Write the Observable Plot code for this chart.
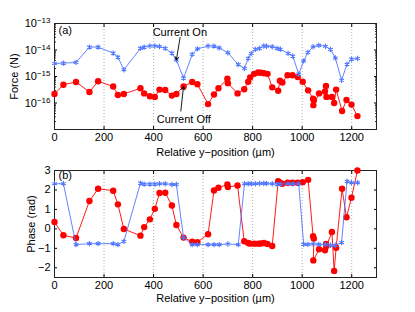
<!DOCTYPE html>
<html><head><meta charset="utf-8">
<script src="https://cdn.jsdelivr.net/npm/d3@7"></script>
<script src="https://cdn.jsdelivr.net/npm/@observablehq/plot@0.6"></script>
<style>
body{margin:0;background:#fff;}
#chart svg{display:block;}
</style></head><body><div id="chart"></div>
<script>
// ---- data: Current On (blue asterisks) ----
const posOn = [0,36,87,141,176,237,256,280,347,362,385,405,424,447,474,492,521,556,577,620,644,665,700,742,767,782,794,811,828,845,856,879,899,912,943,962,986,1006,1023,1044,1067,1094,1114,1134,1159,1181,1199,1224];
const forceOn = [3.1e-15,3.2e-15,3.4e-15,1.29e-14,1.29e-14,7.6e-15,5.4e-15,1.8e-15,1.15e-14,1.29e-14,1.41e-14,1.41e-14,1.35e-14,1.15e-14,7.6e-15,4.2e-15,8.7e-16,6.8e-15,1.1e-14,1.41e-14,1.4e-14,1.2e-14,7.9e-15,2.8e-15,2.0e-15,4.8e-15,7.4e-15,1.05e-14,1.15e-14,1.41e-14,1.38e-14,1.32e-14,1.15e-14,1.07e-14,7.4e-15,5.9e-15,1.23e-15,3.9e-15,8.1e-15,1.32e-14,1.5e-14,1.38e-14,1.05e-14,5.0e-15,7.2e-16,2.9e-15,4.5e-15,4.8e-15];
const phaseOn = [2.32,2.32,-0.81,-0.76,-0.76,-0.76,-0.81,-0.64,2.35,2.30,2.30,2.30,2.32,2.32,2.28,2.28,-0.45,-0.81,-0.81,-0.81,-0.81,-0.81,-0.78,-0.81,2.32,2.32,2.32,2.32,2.33,2.34,2.33,2.32,2.30,2.30,2.32,2.32,2.32,-0.80,-0.80,-0.78,-0.80,-0.80,-0.84,-0.84,-0.71,2.45,2.37,2.37];

// ---- data: Current Off (red circles) ----
const posOff = [0,36,87,141,176,237,256,280,347,362,385,405,424,447,474,492,521,556,577,620,644,662,698,700,739,766,782,790,806,822,833,846,860,879,903,910,920,941,961,982,1002,1024,1044,1047,1045,1068,1092,1096,1098,1120,1129,1137,1161,1179,1199,1223];
const forceOff = [2.2e-16,4.9e-16,6.2e-16,2.6e-16,6.6e-16,4.2e-16,2.0e-16,2.2e-16,3.6e-16,2.3e-16,1.8e-16,1.7e-16,3.2e-16,3.1e-16,1.9e-16,2.2e-16,4.2e-16,6.2e-16,5.1e-16,9.1e-17,2.1e-16,3.6e-16,8.3e-16,5.6e-16,2.3e-16,3.3e-16,6.3e-16,9.3e-16,1.26e-15,1.41e-15,1.38e-15,1.32e-15,1.26e-15,3.9e-16,2.9e-16,6.9e-16,5.9e-16,1.12e-15,1.12e-15,9.5e-16,6.3e-16,3.0e-16,1.45e-16,1.26e-16,8.3e-17,2.3e-16,2.7e-16,4.4e-16,1.7e-16,1.7e-16,1.0e-16,3.2e-16,5.0e-17,1.3e-16,8.7e-17,3.2e-17];
const phaseOff = [0.35,-0.33,-0.47,1.43,2.06,1.96,1.26,-0.01,-0.35,0.09,0.49,1.03,1.84,1.86,1.20,0.20,-0.45,-0.66,-0.68,-0.28,1.97,2.11,2.28,2.15,2.23,-0.64,-0.73,-0.76,-0.76,-0.76,-0.75,-0.73,-0.78,-0.88,2.45,2.37,2.32,2.37,2.37,2.37,2.40,2.52,-0.38,-0.50,-1.62,-1.05,-1.10,-0.78,-0.88,-0.16,-2.16,-0.97,2.06,0.60,1.60,3.00];

// ---- ticks & labels ----
const xTicks = [0,200,400,600,800,1000,1200];
const forceTicks = [1e-16,1e-15,1e-14,1e-13];
const forceTickLabels = ["10^\u221216","10^\u221215","10^\u221214","10^\u221213"];
const forceDecades = [1e-17,1e-16,1e-15,1e-14];
const minorFactors = [2,3,4,5,6,7,8,9];
const phaseTicks = [-2,-1,0,1,2,3];
const phaseTickLabels = ["\u22122","\u22121","0","1","2","3"];
const xLabel = "Relative y\u2212position (\u00b5m)";

// ---- annotations ----
const noteLabels = ["Current On","Current Off"];
const noteX = [506, 522];
const noteY = [4.6e-14, 2.45e-17];
const arrowFromX = [507, 510];
const arrowFromY = [2.95e-14, 5.0e-17];

const blue = "#4f76ff", red = "#ff0000";
const font = "'Liberation Sans', Arial, Helvetica, sans-serif";

const onData = posOn.map((x,i)=>({x, f: forceOn[i], p: phaseOn[i]}));
const offData = posOff.map((x,i)=>({x, f: forceOff[i], p: phaseOff[i]}));
const minorTicks = forceDecades.flatMap(d => minorFactors.map(m => m*d));
const notes = noteLabels.map((t,i)=>({t, x: noteX[i], y: noteY[i]}));
const arrows = [
  {x1: arrowFromX[0], y1: arrowFromY[0], x2: posOn[15], y2: forceOn[15], inset: 3},
  {x1: arrowFromX[1], y1: arrowFromY[1], x2: posOff[16], y2: forceOff[16], inset: 5}
];

const common = {
  width: 415,
  marginLeft: 54, marginRight: 39,
  style: {fontFamily: font, fontSize: "11px", color: "#000", background: "#fff", overflow: "visible"},
  x: {domain: [0,1300]}
};
const blank = () => "";

function xAxes() {
  return [
    Plot.ruleX(xTicks.slice(1), {stroke: "#999", strokeDasharray: "1,2", strokeWidth: 0.8}),
    Plot.axisX({ticks: xTicks, tickSize: -3, tickPadding: 7, label: null, tickFormat: d => String(d)}),
    Plot.axisX({anchor: "top", ticks: xTicks, tickSize: -3, label: null, tickFormat: blank}),
  ];
}

const topPlot = Plot.plot({
  ...common,
  height: 156, marginTop: 23, marginBottom: 27,
  y: {type: "log", domain: [1e-17, 1e-13]},
  marks: [
    ...xAxes(),
    Plot.axisY({ticks: forceTicks, tickSize: -3, tickPadding: 7, label: null, tickFormat: d => forceTickLabels[forceTicks.indexOf(d)]}),
    Plot.axisY({ticks: minorTicks, tickSize: -1.8, label: null, tickFormat: blank}),
    Plot.axisY({anchor: "right", ticks: forceTicks, tickSize: -3, label: null, tickFormat: blank}),
    Plot.axisY({anchor: "right", ticks: minorTicks, tickSize: -1.8, label: null, tickFormat: blank}),
    Plot.frame({stroke: "#222", strokeWidth: 1}),
    Plot.line(offData, {x: "x", y: "f", stroke: red, strokeWidth: 0.9}),
    Plot.dot(offData, {x: "x", y: "f", r: 3.2, fill: red, stroke: "none"}),
    Plot.line(onData, {x: "x", y: "f", stroke: blue, strokeWidth: 0.9}),
    Plot.dot(onData, {x: "x", y: "f", r: 2.5, symbol: "asterisk", stroke: blue, strokeWidth: 1.1}),
    Plot.arrow(arrows, {x1: "x1", y1: "y1", x2: "x2", y2: "y2", insetEnd: "inset", stroke: "#000", strokeWidth: 0.9, headLength: 6, bend: 0}),
    Plot.text(notes, {x: "x", y: "y", text: "t", fill: "#000", fontSize: 11}),
    Plot.text(["(a)"], {frameAnchor: "top-left", dx: 4, dy: 3, lineAnchor: "top", textAnchor: "start", fontSize: 11}),
    Plot.text(["Force (N)"], {frameAnchor: "left", dx: -40, rotate: -90, textAnchor: "middle", lineAnchor: "middle", fontSize: 11}),
    Plot.text([xLabel], {frameAnchor: "bottom", dy: 23, textAnchor: "middle", lineAnchor: "middle", fontSize: 11}),
  ]
});

const bottomPlot = Plot.plot({
  ...common,
  height: 156, marginTop: 14, marginBottom: 35,
  y: {domain: [-2.5, 3]},
  marks: [
    ...xAxes(),
    Plot.axisY({ticks: phaseTicks, tickSize: -3, tickPadding: 7, label: null, tickFormat: d => phaseTickLabels[phaseTicks.indexOf(d)]}),
    Plot.axisY({anchor: "right", ticks: phaseTicks, tickSize: -3, label: null, tickFormat: blank}),
    Plot.frame({stroke: "#222", strokeWidth: 1}),
    Plot.line(offData, {x: "x", y: "p", stroke: red, strokeWidth: 0.9}),
    Plot.dot(offData, {x: "x", y: "p", r: 3.2, fill: red, stroke: "none"}),
    Plot.line(onData, {x: "x", y: "p", stroke: blue, strokeWidth: 0.9}),
    Plot.dot(onData, {x: "x", y: "p", r: 2.5, symbol: "asterisk", stroke: blue, strokeWidth: 1.1}),
    Plot.text(["(b)"], {frameAnchor: "top-left", dx: 4, dy: 1, lineAnchor: "top", textAnchor: "start", fontSize: 11}),
    Plot.text(["Phase (rad)"], {frameAnchor: "left", dx: -23, rotate: -90, textAnchor: "middle", lineAnchor: "middle", fontSize: 11}),
    Plot.text([xLabel], {frameAnchor: "bottom", dy: 21, textAnchor: "middle", lineAnchor: "middle", fontSize: 11}),
  ]
});

// superscript exponents on the log axis labels
const NS = "http://www.w3.org/2000/svg";
topPlot.querySelectorAll('g[aria-label="y-axis tick label"] text').forEach(t => {
  const m = (t.textContent || "").match(/^10\^(.+)$/);
  if (m) {
    t.textContent = "10";
    const ts = document.createElementNS(NS, "tspan");
    ts.setAttribute("dy", "-0.5em");
    ts.setAttribute("font-size", "8px");
    ts.textContent = m[1];
    t.appendChild(ts);
  }
});

const chart = document.getElementById("chart");
chart.appendChild(topPlot);
chart.appendChild(bottomPlot);
</script>
</body></html>
